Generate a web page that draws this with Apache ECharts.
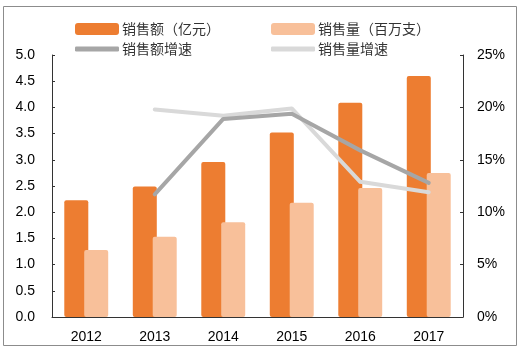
<!DOCTYPE html>
<html><head><meta charset="utf-8">
<script src="https://cdn.jsdelivr.net/npm/echarts@6/dist/echarts.min.js"></script>
<style>html,body{margin:0;padding:0;background:#fff}#c{width:519px;height:349px}</style>
</head><body><div id="c"></div>
<script>
var categories = ['2012','2013','2014','2015','2016','2017'];
var salesValue = [2.23, 2.49, 2.96, 3.52, 4.09, 4.60];
var salesVolume = [1.28, 1.53, 1.81, 2.18, 2.46, 2.75];
var salesValueGrowth = [null, 11.7, 18.9, 19.4, 15.9, 12.8];
var salesVolumeGrowth = [null, 19.8, 19.2, 19.9, 12.9, 11.9];
var names = ['销售额（亿元）','销售量（百万支）','销售额增速','销售量增速'];
var colors = ['#ED7D31','#F8C09A','#A6A6A6','#D9D9D9'];

var chart = echarts.init(document.getElementById('c'), null, {renderer:'canvas'});
var font = {fontFamily:'Liberation Sans, Arial, sans-serif', fontSize:14, color:'#000'};
function lg(name, left, top, isLine){
  return {left:left, top:top, itemWidth:44, itemHeight:isLine?5:12, itemGap:0,
    data:[{name:name, icon:'roundRect'}],
    textStyle:{fontFamily:'Noto Sans CJK SC', fontSize:14, color:'#333', padding:[0,0,0,-2]},
    selectedMode:false};
}
chart.setOption({
  animation:false,
  color: colors,
  graphic:[{type:'rect', shape:{x:3.5,y:6.5,width:513,height:339}, style:{fill:null, stroke:'#8c8c8c', lineWidth:1}}],
  legend:[lg(names[0],70,17,false), lg(names[1],266,17,false), lg(names[2],70,37,true), lg(names[3],266,37,true)],
  grid:{left:52, right:56, top:55, bottom:32},
  xAxis:{type:'category', data:categories,
    axisLine:{lineStyle:{color:'#333', width:1}},
    axisTick:{inside:true, length:4, lineStyle:{color:'#333'}},
    axisLabel:Object.assign({margin:13}, font)},
  yAxis:[
    {type:'value', min:0, max:5, interval:0.5, splitLine:{show:false},
     axisLine:{show:true, lineStyle:{color:'#333'}},
     axisTick:{show:true, inside:true, length:3, lineStyle:{color:'#333'}},
     axisLabel:Object.assign({margin:17, formatter:function(v){return v.toFixed(1);}}, font)},
    {type:'value', min:0, max:25, interval:5, splitLine:{show:false}, position:'right',
     axisLine:{show:true, lineStyle:{color:'#333'}},
     axisTick:{show:true, inside:true, length:3, lineStyle:{color:'#333'}},
     axisLabel:Object.assign({margin:14, formatter:'{value}%'}, font)}
  ],
  series:[
    {name:names[0], type:'bar', data:salesValue, barWidth:24, barGap:'-17%', itemStyle:{color:colors[0], borderRadius:2}},
    {name:names[1], type:'bar', data:salesVolume, barWidth:24, barGap:'-17%', itemStyle:{color:colors[1], borderRadius:2}},
    {name:names[2], type:'line', yAxisIndex:1, data:salesValueGrowth, symbol:'none', z:4,
     lineStyle:{color:colors[2], width:4, cap:'round', join:'round'}, itemStyle:{color:colors[2]}},
    {name:names[3], type:'line', yAxisIndex:1, data:salesVolumeGrowth, symbol:'none', z:3,
     lineStyle:{color:colors[3], width:4, cap:'round', join:'round'}, itemStyle:{color:colors[3]}}
  ]
});
</script></body></html>
